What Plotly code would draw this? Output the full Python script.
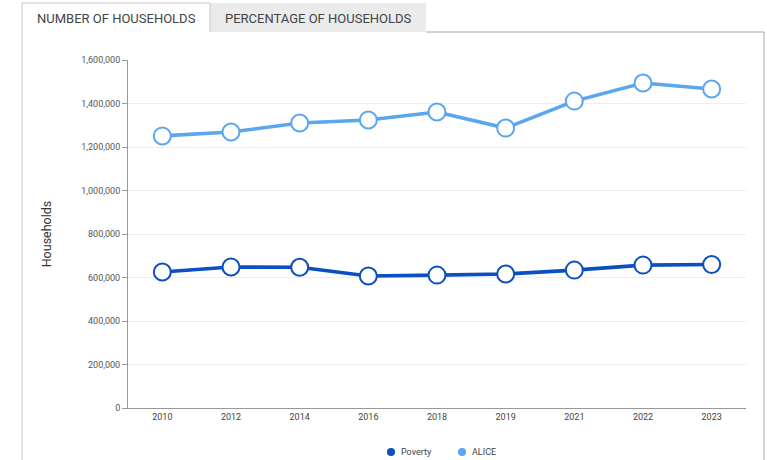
import plotly.graph_objects as go

years = ["2010", "2012", "2014", "2016", "2018", "2019", "2021", "2022", "2023"]
poverty = [625000, 648000, 647000, 607000, 611000, 616000, 634000, 657000, 660000]
alice = [1251000, 1269000, 1310000, 1324000, 1361000, 1287000, 1411000, 1494000, 1467000]
y_ticks = [0, 200000, 400000, 600000, 800000, 1000000, 1200000, 1400000, 1600000]
series_names = ["Poverty", "ALICE"]

POV_C = "#0b4fc2"
ALICE_C = "#5aa6f0"

W, H = 767, 460
L, R, T, B = 128, 746, 60, 408


def px(x):
    return (x - L) / (R - L)


def py(y):
    return (B - y) / (B - T)


fig = go.Figure()
for name, vals, col in [(series_names[0], poverty, POV_C), (series_names[1], alice, ALICE_C)]:
    fig.add_trace(go.Scatter(
        x=years, y=vals, mode="lines+markers", name=name, showlegend=False,
        line=dict(color=col, width=3.6),
        marker=dict(size=17, color="white", line=dict(color=col, width=2)),
        hovertemplate="%{x}: %{y:,}<extra>" + name + "</extra>",
    ))

shapes = [
    dict(type="rect", xref="paper", yref="paper", x0=px(210), x1=px(426), y0=py(32), y1=py(3),
         fillcolor="#ebebeb", line=dict(width=0), layer="below"),
    dict(type="line", xref="paper", yref="paper", x0=px(22), x1=px(22), y0=py(460), y1=py(3),
         line=dict(color="#c8c8c8", width=1)),
    dict(type="line", xref="paper", yref="paper", x0=px(22), x1=px(210), y0=py(3), y1=py(3),
         line=dict(color="#c8c8c8", width=1)),
    dict(type="line", xref="paper", yref="paper", x0=px(210), x1=px(210), y0=py(3), y1=py(32),
         line=dict(color="#c8c8c8", width=1)),
    dict(type="line", xref="paper", yref="paper", x0=px(426), x1=px(764), y0=py(32), y1=py(32),
         line=dict(color="#a8a8a8", width=1)),
    dict(type="line", xref="paper", yref="paper", x0=px(764), x1=px(764), y0=py(32), y1=py(460),
         line=dict(color="#a8a8a8", width=1)),
]

annotations = [
    dict(text="NUMBER OF HOUSEHOLDS", xref="paper", yref="paper", x=px(116), y=py(18),
         showarrow=False, font=dict(size=13, color="#444444"), xanchor="center", yanchor="middle"),
    dict(text="PERCENTAGE OF HOUSEHOLDS", xref="paper", yref="paper", x=px(318), y=py(18),
         showarrow=False, font=dict(size=13, color="#444444"), xanchor="center", yanchor="middle"),
]

# custom legend
for name, col, cx in [(series_names[0], POV_C, 391), (series_names[1], ALICE_C, 462)]:
    shapes.append(dict(type="circle", xref="paper", yref="paper",
                       x0=px(cx - 4), x1=px(cx + 4), y0=py(456), y1=py(448),
                       fillcolor=col, line=dict(width=0)))
    annotations.append(dict(text=name, xref="paper", yref="paper", x=px(cx + 8), y=py(452),
                            showarrow=False, xanchor="left", yanchor="middle",
                            font=dict(size=9, color="#444444")))

fig.update_layout(
    width=W, height=H,
    margin=dict(l=L, r=W - R, t=T, b=H - B, pad=0, autoexpand=False),
    paper_bgcolor="white", plot_bgcolor="white",
    font=dict(family="Roboto, Arial, sans-serif", color="#444444"),
    shapes=shapes, annotations=annotations, showlegend=False,
    xaxis=dict(type="category", range=[-0.5, len(years) - 0.5], showgrid=False,
               showline=True, linecolor="#999999", linewidth=1,
               tickfont=dict(size=9, color="#444444"), ticks="", fixedrange=True),
    yaxis=dict(range=[0, 1600000], tickvals=y_ticks, tickformat=",",
               showgrid=True, gridcolor="#eeeeee", gridwidth=1,
               showline=True, linecolor="#999999", linewidth=1,
               ticks="outside", ticklen=5, tickcolor="#999999",
               tickfont=dict(size=9, color="#555555"), zeroline=False,
               title=dict(text="Households", font=dict(size=12.5, color="#333333"), standoff=26)),
)

fig.write_html("out.html", config={"displayModeBar": False},
               post_script="document.body.style.margin='0';")
